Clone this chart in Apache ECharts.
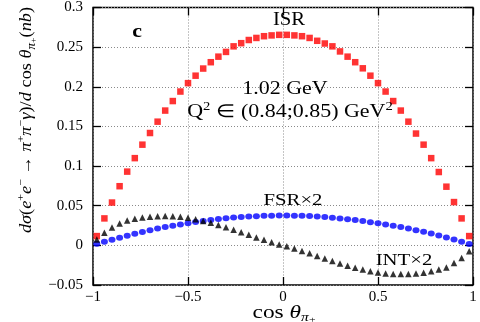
<!DOCTYPE html>
<html><head><meta charset="utf-8">
<script src="https://cdn.jsdelivr.net/npm/echarts@6/dist/echarts.min.js"></script>
<style>html,body{margin:0;padding:0;background:#fff}#c{width:480px;height:322px}</style>
</head><body><div id="c"></div>
<script>
const cosTheta = [-0.98,-0.94,-0.90,-0.86,-0.82,-0.78,-0.74,-0.70,-0.66,-0.62,-0.58,-0.54,-0.50,-0.46,-0.42,-0.38,-0.34,-0.30,-0.26,-0.22,-0.18,-0.14,-0.10,-0.06,-0.02,
  0.02,0.06,0.10,0.14,0.18,0.22,0.26,0.30,0.34,0.38,0.42,0.46,0.50,0.54,0.58,0.62,0.66,0.70,0.74,0.78,0.82,0.86,0.90,0.94,0.98];
const isr = [0.0117,0.034,0.054,0.0746,0.093,0.110,0.127,0.1417,0.156,0.170,0.182,0.194,0.2046,0.214,0.223,0.231,0.238,0.244,0.251,0.255,0.259,0.2616,0.2638,0.2648,0.2655,
  0.2655,0.2648,0.2638,0.2616,0.258,0.2546,0.251,0.2446,0.238,0.231,0.2233,0.214,0.2046,0.194,0.182,0.170,0.156,0.141,0.127,0.110,0.0925,0.074,0.0546,0.034,0.0117];
const fsrX2 = [0.0020,0.0046,0.0072,0.0097,0.0121,0.0146,0.0170,0.0192,0.0212,0.0230,0.0247,0.0263,0.0278,0.0294,0.0308,0.0320,0.0331,0.0341,0.0350,0.0357,0.0363,0.0368,0.0372,0.0375,0.0376,
  0.0376,0.0375,0.0373,0.0369,0.0364,0.0357,0.0349,0.0340,0.0330,0.0319,0.0306,0.0292,0.0278,0.0263,0.0247,0.0230,0.0212,0.0192,0.0171,0.0149,0.0125,0.0100,0.0073,0.0046,0.0018];
const intX2 = [0.0075,0.0160,0.0225,0.0275,0.0312,0.0335,0.0352,0.0362,0.0368,0.0370,0.0368,0.0362,0.0348,0.0330,0.0308,0.0285,0.0258,0.0228,0.0198,0.0166,0.0134,0.0100,0.0070,0.0040,0.0012,
  -0.0012,-0.0040,-0.0070,-0.0100,-0.0134,-0.0166,-0.0198,-0.0228,-0.0256,-0.0283,-0.0306,-0.0326,-0.0342,-0.0354,-0.0360,-0.0362,-0.0360,-0.0354,-0.0344,-0.0326,-0.0304,-0.0278,-0.0222,-0.0160,-0.0075];
const xTickLabels = ['\u22121','\u22120.5','0','0.5','1'];
const yTickLabels = ['\u22120.05','0','0.05','0.1','0.15','0.2','0.25','0.3'];
const xMin = -1, xMax = 1, xStep = 0.5;
const yMin = -0.05, yMax = 0.3, yStep = 0.05;

const F = 'Liberation Serif, Times New Roman, serif';
const pairs = arr => cosTheta.map((c, i) => [c, arr[i]]);
const xFmt = v => xTickLabels[Math.round((v - xMin) / xStep)] || '';
const yFmt = v => yTickLabels[Math.round((v - yMin) / yStep)] || '';

const tickStyle = {inside: true, length: 8, lineStyle: {color: '#000', width: 1.3}};
const gridLine = {show: true, lineStyle: {color: '#8a8a8a', type: [1, 2], width: 1}};
const noLine = {show: false, onZero: false};

const chart = echarts.init(document.getElementById('c'), null, {renderer: 'canvas'});
const sup = {fontSize: 11, fontFamily: F, verticalAlign: 'top', lineHeight: 11};
const sub = {fontSize: 12, fontFamily: F, fontStyle: 'italic', verticalAlign: 'bottom', lineHeight: 12};
const SX = 1.22;
const label = (x, y, text, size, extra) => Object.assign({type: 'text', x: x, y: y, z: 10, scaleX: SX,
  style: {text: text, font: size + 'px ' + F, fill: '#000', align: 'center', verticalAlign: 'middle'}}, extra || {});
chart.setOption({
  animation: false,
  backgroundColor: '#fff',
  grid: {left: 93, top: 5, width: 380, height: 280, show: true, borderColor: '#000', borderWidth: 1.5, backgroundColor: 'transparent'},
  xAxis: [
    {type: 'value', min: xMin, max: xMax, interval: xStep, position: 'bottom',
     axisLine: noLine, axisTick: tickStyle,
     axisLabel: {formatter: xFmt, fontFamily: F, fontSize: 15, color: '#000', margin: 5},
     splitLine: gridLine},
    {type: 'value', min: xMin, max: xMax, interval: xStep, position: 'top',
     axisLine: noLine, axisTick: tickStyle, axisLabel: {show: false}, splitLine: {show: false}}
  ],
  yAxis: [
    {type: 'value', min: yMin, max: yMax, interval: yStep, position: 'left',
     axisLine: noLine, axisTick: tickStyle,
     axisLabel: {formatter: yFmt, fontFamily: F, fontSize: 15, color: '#000', margin: 10},
     splitLine: gridLine},
    {type: 'value', min: yMin, max: yMax, interval: yStep, position: 'right',
     axisLine: noLine, axisTick: tickStyle, axisLabel: {show: false}, splitLine: {show: false}}
  ],
  series: [
    {name: 'ISR', type: 'scatter', data: pairs(isr), symbol: 'rect', symbolSize: 6.5,
     itemStyle: {color: '#ff0000'}, z: 3},
    {name: 'FSR×2', type: 'scatter', data: pairs(fsrX2), symbol: 'circle', symbolSize: [7, 6],
     itemStyle: {color: '#0000ff'}, z: 3},
    {name: 'INT×2', type: 'scatter', data: pairs(intX2), symbol: 'triangle', symbolSize: 6.5,
     itemStyle: {color: '#000000'}, z: 3}
  ],
  graphic: [
    {type: 'text', x: 137, y: 32, z: 10, scaleX: 1.15, style: {text: 'c', font: 'bold 19px ' + F, fill: '#000', align: 'center', verticalAlign: 'middle'}},
    label(289, 20, 'ISR', 18, {scaleX: 1.15}),
    label(285, 89, '1.02 GeV', 18),
    {type: 'text', x: 290, y: 112, z: 10, scaleX: SX, style: {
      text: '{n|Q}{s|2}{n| \u2208 (0.84;0.85) GeV}{s|2}', align: 'center', verticalAlign: 'middle',
      rich: {n: {fontSize: 18, fontFamily: F, lineHeight: 22}, s: {fontSize: 12, fontFamily: F, verticalAlign: 'top', lineHeight: 12}}}},
    label(293, 201, 'FSR\u00d72', 17),
    label(404, 261, 'INT\u00d72', 17),
    {type: 'text', x: 284, y: 313, z: 10, scaleX: 1.3, style: {
      text: '{n|cos }{i|\u03b8}{b|\u03c0}{p|+}', align: 'center', verticalAlign: 'middle',
      rich: {n: {fontSize: 18, fontFamily: F, lineHeight: 22}, i: {fontSize: 18, fontFamily: F, fontStyle: 'italic', lineHeight: 22},
             b: sub, p: {fontSize: 9, fontFamily: F, verticalAlign: 'bottom', lineHeight: 17}}}},
    {type: 'text', x: 27, y: 120, rotation: Math.PI / 2, z: 10, scaleX: 1.08, style: {
      text: '{i|d\u03c3}{n|(}{i|e}{s|+}{i|e}{s|\u2212}{n| \u2192 }{i|\u03c0}{s|+}{i|\u03c0}{s|\u2212}{i|\u03b3}{n|)/}{i|d}{n| cos }{i|\u03b8}{b|\u03c0}{p|+}{n|(}{i|nb}{n|)}',
      align: 'center', verticalAlign: 'middle',
      rich: {n: {fontSize: 17, fontFamily: F, lineHeight: 22}, i: {fontSize: 17, fontFamily: F, fontStyle: 'italic', lineHeight: 22},
             s: sup, b: sub, p: {fontSize: 9, fontFamily: F, verticalAlign: 'bottom', lineHeight: 17}}}}
  ]
});
</script></body></html>
